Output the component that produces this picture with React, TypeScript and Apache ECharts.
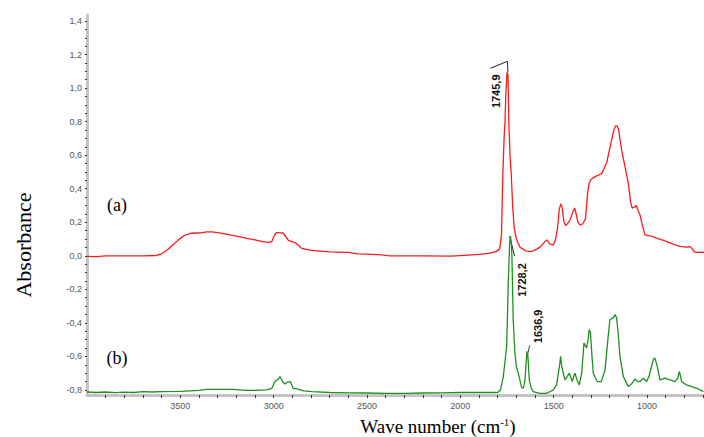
import React, { useEffect, useRef } from "react";
import * as echarts from "echarts";

// Spectrum (a) – red
const aWave = [4000, 3950, 3900, 3800, 3700, 3630, 3600, 3570, 3540, 3510, 3480, 3450, 3420, 3390, 3360, 3330, 3300, 3250, 3200, 3150, 3100, 3060, 3030, 3010, 2995, 2985, 2965, 2950, 2935, 2920, 2900, 2880, 2865, 2850, 2800, 2700, 2600, 2550, 2500, 2420, 2380, 2200, 2050, 1960, 1900, 1850, 1810, 1790, 1780, 1772, 1766, 1761, 1756, 1750, 1745, 1740, 1734, 1728, 1720, 1712, 1700, 1680, 1650, 1620, 1590, 1570, 1550, 1538, 1520, 1502, 1490, 1480, 1470, 1462, 1455, 1445, 1435, 1420, 1410, 1395, 1388, 1380, 1370, 1360, 1345, 1330, 1318, 1310, 1300, 1288, 1265, 1243, 1230, 1216, 1200, 1190, 1178, 1168, 1160, 1152, 1143, 1136, 1118, 1100, 1088, 1080, 1068, 1058, 1048, 1038, 1025, 1011, 995, 976, 950, 920, 895, 860, 824, 790, 775, 765, 750, 743, 695];
const aAbs = [-0.003, -0.005, 0.0, 0.0, 0.0, 0.002, 0.012, 0.035, 0.065, 0.095, 0.12, 0.133, 0.136, 0.137, 0.143, 0.143, 0.138, 0.128, 0.118, 0.105, 0.095, 0.085, 0.08, 0.085, 0.125, 0.14, 0.137, 0.136, 0.115, 0.09, 0.085, 0.075, 0.06, 0.045, 0.032, 0.024, 0.02, 0.012, 0.01, 0.005, 0.0, 0.0, -0.002, 0.004, 0.008, 0.015, 0.025, 0.04, 0.12, 0.5, 0.7, 0.8, 0.98, 1.095, 1.08, 0.78, 0.6, 0.5, 0.3, 0.17, 0.1, 0.05, 0.03, 0.025, 0.04, 0.055, 0.08, 0.095, 0.07, 0.065, 0.1, 0.16, 0.28, 0.31, 0.29, 0.2, 0.18, 0.2, 0.22, 0.27, 0.285, 0.25, 0.2, 0.185, 0.19, 0.22, 0.38, 0.435, 0.455, 0.465, 0.48, 0.49, 0.52, 0.555, 0.64, 0.69, 0.75, 0.775, 0.775, 0.75, 0.68, 0.63, 0.53, 0.43, 0.32, 0.285, 0.29, 0.3, 0.27, 0.245, 0.18, 0.125, 0.12, 0.118, 0.105, 0.095, 0.085, 0.07, 0.056, 0.052, 0.055, 0.05, 0.03, 0.02, 0.02];

// Spectrum (b) – green
const bWave = [4000, 3950, 3900, 3850, 3800, 3750, 3700, 3650, 3600, 3500, 3400, 3357, 3300, 3218, 3150, 3100, 3037, 3010, 2993, 2975, 2966, 2955, 2940, 2930, 2911, 2896, 2870, 2840, 2793, 2700, 2600, 2500, 2400, 2300, 2200, 2100, 2000, 1900, 1850, 1800, 1785, 1770, 1760, 1752, 1743, 1736, 1731, 1727, 1724, 1717, 1708, 1700, 1690, 1672, 1663, 1655, 1648, 1643, 1638, 1631, 1620, 1610, 1574, 1540, 1502, 1485, 1475, 1467, 1463, 1457, 1440, 1428, 1417, 1400, 1390, 1386, 1375, 1363, 1350, 1338, 1324, 1316, 1310, 1303, 1295, 1288, 1267, 1245, 1225, 1210, 1199, 1181, 1172, 1163, 1155, 1145, 1127, 1100, 1080, 1065, 1050, 1038, 1020, 1002, 990, 976, 965, 958, 945, 931, 918, 904, 877, 851, 835, 827, 820, 815, 788, 760, 734, 698];
const bAbs = [-0.812, -0.815, -0.812, -0.816, -0.813, -0.815, -0.81, -0.812, -0.81, -0.808, -0.803, -0.797, -0.797, -0.797, -0.803, -0.803, -0.8, -0.79, -0.75, -0.735, -0.72, -0.745, -0.765, -0.755, -0.75, -0.79, -0.795, -0.805, -0.81, -0.815, -0.817, -0.818, -0.82, -0.82, -0.818, -0.817, -0.815, -0.815, -0.815, -0.815, -0.8, -0.72, -0.62, -0.54, -0.15, 0.08, 0.115, 0.07, 0.0, -0.38, -0.58, -0.66, -0.7, -0.785, -0.79, -0.75, -0.64, -0.57, -0.6, -0.74, -0.79, -0.81, -0.82, -0.82, -0.8, -0.77, -0.7, -0.64, -0.6, -0.66, -0.74, -0.72, -0.7, -0.75, -0.71, -0.7, -0.74, -0.77, -0.7, -0.52, -0.55, -0.5, -0.44, -0.46, -0.6, -0.7, -0.75, -0.75, -0.68, -0.5, -0.38, -0.37, -0.35, -0.37, -0.46, -0.6, -0.72, -0.78, -0.76, -0.735, -0.75, -0.75, -0.73, -0.75, -0.72, -0.66, -0.615, -0.61, -0.66, -0.74, -0.735, -0.73, -0.74, -0.75, -0.73, -0.69, -0.72, -0.75, -0.77, -0.78, -0.79, -0.81];

const xTickLabels = [3500, 3000, 2500, 2000, 1500, 1000];
const yTickLabels = [-0.8, -0.6, -0.4, -0.2, 0, 0.2, 0.4, 0.6, 0.8, 1.0, 1.2, 1.4];

// Peak annotations: [wavenumber, absorbance at the mark, label]
const peakA = [1748, 1.16, "1745,9"];
const peakB1 = [1731, 0.118, "1728,2"];
const peakB2 = [1640, -0.57, "1636,9"];

const zip = (xs: number[], ys: number[]) => xs.map((x, i) => [x, ys[i]]);

export default function App() {
  const ref = useRef<HTMLDivElement>(null);
  useEffect(() => {
    const chart = echarts.init(ref.current!, null, { renderer: "svg" });
    const xMinor: number[] = [];
    for (let w = 3900; w >= 700; w -= 100) xMinor.push(w);
    const yMinor: number[] = [];
    for (let i = -16; i <= 28; i++) yMinor.push(i / 20);
    const axisFont = { fontFamily: "Liberation Sans, Arial", fontSize: 9, color: "#555" };
    chart.setOption({
      animation: false,
      backgroundColor: "#ffffff",
      grid: { left: 87, right: 0, top: 15, bottom: 42, containLabel: false, outerBoundsMode: "none" },
      xAxis: {
        type: "value",
        inverse: true,
        min: 695,
        max: 4000,
        splitLine: { show: false },
        axisLine: { show: true, onZero: false, lineStyle: { color: "#c4c4c4", width: 3 } },
        axisTick: { show: true, length: 3, customValues: xMinor, lineStyle: { color: "#333", width: 1 } },
        axisLabel: { ...axisFont, margin: 6, customValues: xTickLabels, formatter: (v: number) => String(v) },
      },
      yAxis: {
        type: "value",
        min: -0.83,
        max: 1.436,
        splitLine: { show: false },
        axisLine: { show: true, onZero: false, lineStyle: { color: "#c4c4c4", width: 3 } },
        axisTick: { show: true, length: 2, customValues: yMinor, lineStyle: { color: "#333", width: 1 } },
        axisLabel: {
          ...axisFont,
          margin: 5,
          customValues: yTickLabels,
          formatter: (v: number) => v.toFixed(1).replace(".", ","),
        },
      },
      series: [
        {
          type: "line",
          data: zip(aWave, aAbs),
          symbol: "none",
          lineStyle: { color: "#ff1a1a", width: 1.3 },
          z: 3,
        },
        {
          type: "line",
          data: zip(bWave, bAbs),
          symbol: "none",
          lineStyle: { color: "#1f8f1f", width: 1.3 },
          z: 3,
        },
      ],
    });

    const px = (p: any[]) => chart.convertToPixel({ gridIndex: 0 }, [p[0], p[1]]) as number[];
    const a = px(peakA);
    const b1 = px(peakB1);
    const b2 = px(peakB2);
    const peakFont = "bold 11px 'Liberation Sans', Arial";
    const lineStyle = { stroke: "#222", lineWidth: 1, fill: null };
    chart.setOption({
      graphic: [
        {
          type: "text",
          x: 23,
          y: 245,
          rotation: Math.PI / 2,
          style: { text: "Absorbance", font: "22px 'Liberation Serif', 'Times New Roman', serif", fill: "#000", align: "center", verticalAlign: "middle" },
        },
        {
          type: "text",
          x: 438,
          y: 426,
          style: {
            text: "{a|Wave number (cm}{s|-1}{a|)}",
            align: "center",
            verticalAlign: "middle",
            rich: {
              a: { fontFamily: "Liberation Serif, Times New Roman, serif", fontSize: 19, fill: "#000" },
              s: { fontFamily: "Liberation Serif, Times New Roman, serif", fontSize: 11, fill: "#000", verticalAlign: "top", padding: [0, 0, 8, 0] },
            },
          },
        },
        {
          type: "text",
          x: 117,
          y: 205,
          style: { text: "(a)", font: "18px 'Liberation Serif', 'Times New Roman', serif", fill: "#000", align: "center", verticalAlign: "middle" },
        },
        {
          type: "text",
          x: 117,
          y: 358,
          style: { text: "(b)", font: "18px 'Liberation Serif', 'Times New Roman', serif", fill: "#000", align: "center", verticalAlign: "middle" },
        },
        {
          type: "polyline",
          shape: { points: [[a[0] - 17, a[1] + 7], [a[0], a[1]], [a[0] + 0.5, a[1] + 11]] },
          style: lineStyle,
        },
        {
          type: "text",
          x: a[0] - 11,
          y: a[1] + 30,
          rotation: Math.PI / 2,
          style: { text: peakA[2], font: peakFont, fill: "#111", align: "center", verticalAlign: "middle" },
        },
        {
          type: "line",
          shape: { x1: b1[0] - 1, y1: b1[1], x2: b1[0] + 4, y2: b1[1] + 20 },
          style: lineStyle,
        },
        {
          type: "text",
          x: b1[0] + 11,
          y: b1[1] + 44,
          rotation: Math.PI / 2,
          style: { text: peakB1[2], font: peakFont, fill: "#111", align: "center", verticalAlign: "middle" },
        },
        {
          type: "line",
          shape: { x1: b2[0] - 1, y1: b2[1] + 8, x2: b2[0] + 2, y2: b2[1] - 6 },
          style: { stroke: "#444", lineWidth: 1 },
        },
        {
          type: "text",
          x: b2[0] + 10,
          y: b2[1] - 25,
          rotation: Math.PI / 2,
          style: { text: peakB2[2], font: peakFont, fill: "#111", align: "center", verticalAlign: "middle" },
        },
      ],
    });
    return () => chart.dispose();
  }, []);
  return <div ref={ref} style={{ width: 704, height: 437, position: "absolute", left: 0, top: 0 }} />;
}
